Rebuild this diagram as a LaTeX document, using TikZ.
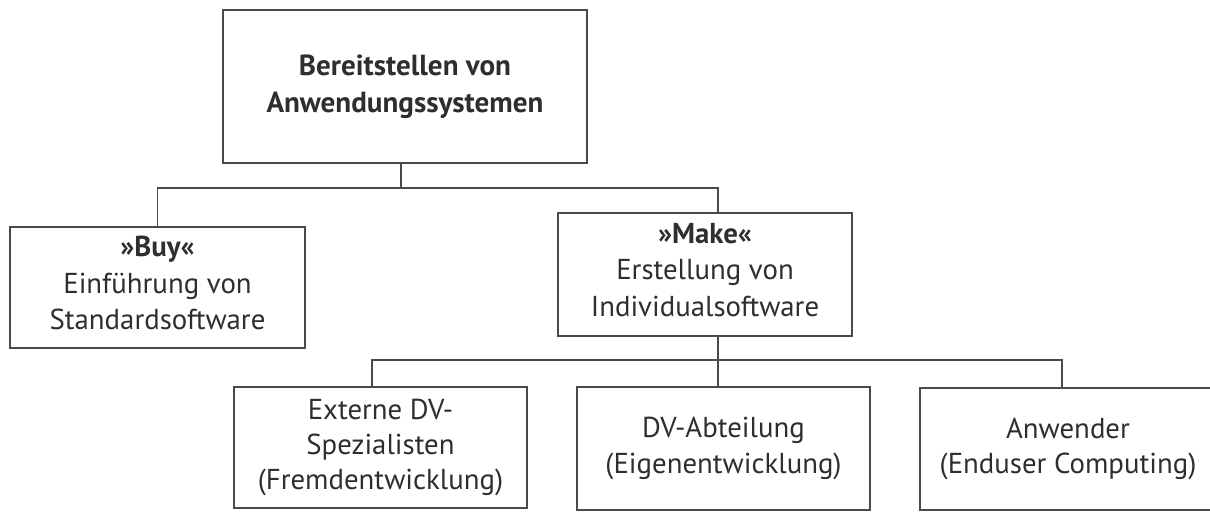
\documentclass[tikz,border=0pt]{standalone}
\usepackage{fontspec}
\setmainfont{PT Sans}
\usetikzlibrary{calc}
\definecolor{linegray}{HTML}{4A4A4A}
\definecolor{textgray}{HTML}{2E2E2E}
% extra depth below the last line, lifting a text block slightly
\newcommand{\liftpad}{\rule[-7pt]{0pt}{0pt}}
\begin{document}
\begin{tikzpicture}[x=0.75pt,y=-0.75pt,
  box/.style={draw=linegray, line width=1.1pt, inner sep=0pt, align=center,
    text=textgray, font=\fontsize{21.6}{27.6}\selectfont},
  lowbox/.style={box, font=\fontsize{21.6}{26.4}\selectfont},
  topbox/.style={box, font=\fontsize{21.8}{27.8}\selectfont\bfseries},
  conn/.style={draw=linegray, line width=1.1pt},
  stem/.style={draw=linegray, line width=1.5pt}]
\useasboundingbox (0,0) rectangle (1210,511);

% root of the hierarchy
\node[topbox, minimum width=364*0.75pt, minimum height=153*0.75pt] (root) at (405,86.5)
  {Bereitstellen von\\Anwendungssystemen};

% first level: buy or make
\node[box, minimum width=295*0.75pt, minimum height=121*0.75pt] (buy) at (157.5,287.5)
  {\textbf{»Buy«}\\Einführung von\\Standardsoftware\liftpad};
\node[box, minimum width=294*0.75pt, minimum height=123*0.75pt] (make) at (705,274.5)
  {\textbf{»Make«}\\Erstellung von\\Individualsoftware\liftpad};

% second level: who develops
\node[lowbox, minimum width=293*0.75pt, minimum height=121*0.75pt] (ext) at (380.5,447.5)
  {Externe DV-\\Spezialisten\\(Fremdentwicklung)};
\node[lowbox, minimum width=293*0.75pt, minimum height=123*0.75pt] (dv) at (723.5,448.5)
  {DV-Abteilung\\(Eigenentwicklung)};
\node[lowbox, minimum width=296*0.75pt, minimum height=122*0.75pt] (user) at (1068,449)
  {Anwender\\(Enduser Computing)};

% branching points
\coordinate (j1) at (401,188);
\coordinate (j1r) at (718,188);
\coordinate (j2) at (718,360);
\coordinate (j2l) at (372,360);
\coordinate (j2r) at (1062,360);

% connectors
\draw[stem] (root.south -| j1) -- (j1);
\draw[conn] (buy.north) |- (j1) -- (j1r) -- (make.north -| j1r);
\draw[conn] (make.south -| j2) -- (j2);
\draw[conn] (ext.north -| j2l) -- (j2l) -- (j2r) -- (user.north -| j2r);
\draw[conn] (j2) -- (dv.north -| j2);
\end{tikzpicture}
\end{document}
